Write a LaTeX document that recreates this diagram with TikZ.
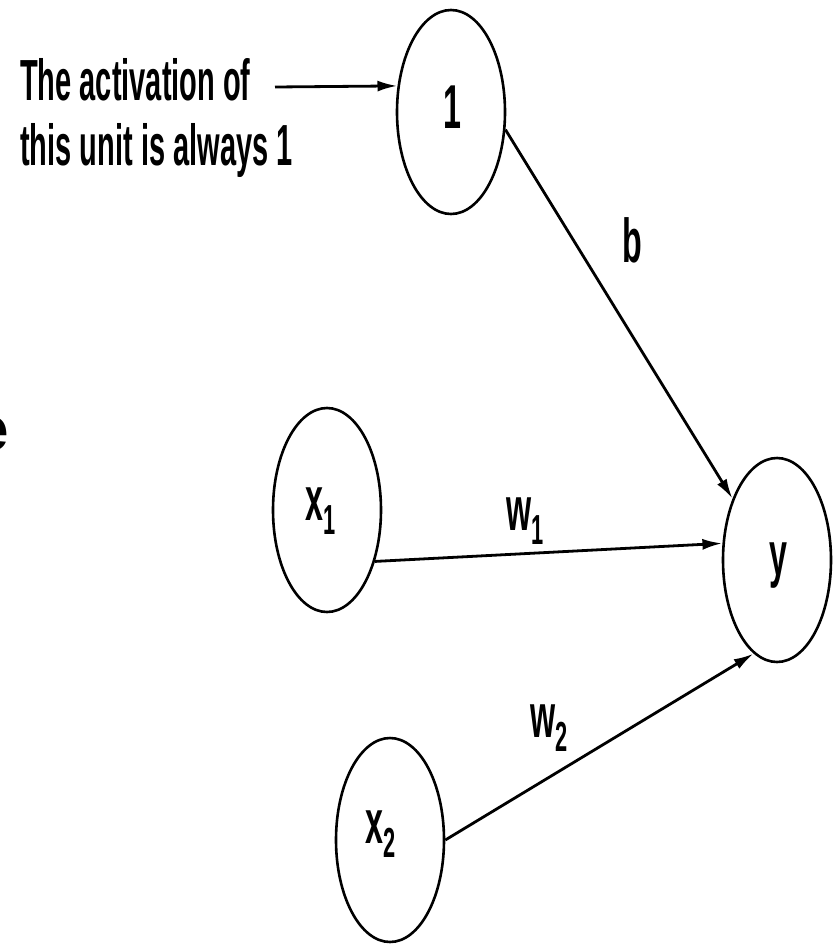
\documentclass[tikz,border=0pt]{standalone}
\usepackage{fontspec}
\setmainfont{Liberation Sans}
\usetikzlibrary{shapes.geometric,arrows.meta}
\newcommand{\lbl}[1]{\scalebox{0.52}[1]{\fontsize{62}{62}\selectfont\bfseries #1}}
\newcommand{\sbs}[1]{\raisebox{-14pt}{\fontsize{42}{42}\selectfont\bfseries #1}}
\newcommand{\ntxt}[1]{\scalebox{0.50}[1]{\fontsize{58}{58}\selectfont\bfseries #1}}
\begin{document}
\begin{tikzpicture}[x=1pt,y=-1pt,
  unit/.style={ellipse, draw, line width=2.6pt, minimum width=108pt, minimum height=204pt, inner sep=0pt},
  conn/.style={line width=2.8pt, -{Latex[length=20pt,width=11pt]}},
  lab/.style={inner sep=0pt, anchor=base}]
\useasboundingbox (0,0) rectangle (838,946);
\fill[white] (0,0) rectangle (838,946);

% units
\node[unit] (one) at (451,112) {};
\node[unit] (x1) at (327,510) {};
\node[unit] (x2) at (390,840) {};
\node[unit] (y) at (777,560) {};

% unit labels
\node[lab] (lone) at (452,128) {\lbl{1}};
\node[lab] (lx1) at (321,520) {\lbl{x\sbs{1}}};
\node[lab] (lx2) at (381,843) {\lbl{x\sbs{2}}};
\node[lab] (ly) at (778,575) {\lbl{y}};

% weight labels
\node[lab] (lb) at (632,262) {\lbl{b}};
\node[lab] (lw1) at (525,530) {\lbl{w\sbs{1}}};
\node[lab] (lw2) at (549,737) {\lbl{w\sbs{2}}};

% note
\node[inner sep=0pt, anchor=base west] (t1) at (20,100) {\ntxt{The activation of}};
\node[inner sep=0pt, anchor=base west] (t2) at (20,165) {\ntxt{this unit is always 1}};
\coordinate (ns) at (275,87);

% cropped letter at left edge
\node[inner sep=0pt, anchor=base east] (e) at (9,450) {\fontsize{62}{62}\selectfont\bfseries e};

% connectors
\draw[conn] (ns) -- (one.154.7);
\draw[conn] (one.-18) -- (y.126.6);
\draw[conn] (x1.-47.3) -- (y.163.4);
\draw[conn] (x2.0) -- (y.-104.5);
\end{tikzpicture}
\end{document}
